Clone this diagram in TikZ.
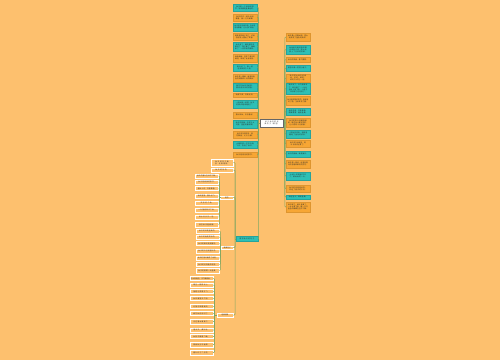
\documentclass[tikz,border=0pt]{standalone}
\usepackage{fontspec}
\newfontfamily\cjk{Noto Sans CJK SC}
\XeTeXlinebreaklocale "zh"
\XeTeXlinebreakskip = 0pt plus 0.5pt
\definecolor{bgc}{RGB}{253,192,110}
\definecolor{orgc}{RGB}{247,166,52}
\definecolor{teac}{RGB}{46,192,182}
\definecolor{edgec}{RGB}{128,168,98}
\definecolor{txtc}{RGB}{45,45,45}
\tikzset{
  base/.style={font=\cjk\fontsize{1.7}{2.1}\selectfont, text=txtc, inner xsep=0.7pt, inner ysep=0.4pt, align=center},
  colbox/.style={base, text width=21pt, minimum width=24pt, line width=0.3pt},
  tb/.style={colbox, fill=teac, draw=teac!85!black},
  ob/.style={colbox, fill=orgc, draw=orgc!90!black},
  wb/.style={base, text width=21pt, minimum width=23pt, fill=bgc, draw=white, line width=0.35pt},
  lab/.style={base, fill=bgc, draw=white, line width=0.35pt, minimum height=3.5pt},
  rootbox/.style={base, text width=22pt, minimum width=23.5pt, minimum height=8pt, fill=white, draw=black!60, line width=0.3pt},
  edge/.style={draw=edgec, line width=0.5pt, rounded corners=0.8pt}
}
\begin{document}
\begin{tikzpicture}[x=1pt,y=-1pt]
\fill[bgc] (0,0) rectangle (500,360);
\useasboundingbox (0,0) rectangle (500,360);

\node[rootbox] (root) at (271.8,123) {关于秋天的优美句子（精选）};

% left column
\foreach \n/\y/\h/\s/\t in {
 L1/7.5/7/tb/{秋天是一个收获的季节，到处都是金黄色的。},
 L2/17.5/7/ob/{秋风吹过，树叶纷纷飘落，像一只只蝴蝶。},
 L3/27/8/tb/{秋天的天空格外蓝，白云悠悠地飘着，让人心旷神怡。},
 L4/36.5/7/ob/{田野里的稻子熟了，农民伯伯脸上露出了笑容。},
 L5/46.5/9/tb/{秋天来了，果园里的苹果红了，梨子黄了，葡萄紫了，一派丰收的景象。},
 L6/58/8/ob/{秋雨绵绵，洗去了夏日的燥热，带来了丝丝凉意。},
 L7/67.5/7/tb/{枫叶红了，像一团团燃烧的火焰。},
 L8/78/8/ob/{秋天是一幅画，画里有金色的田野和火红的枫林。},
 L9/87/8/tb/{菊花在秋风中绽放，散发出淡淡的清香。},
 L10/95/4.5/ob/{秋高气爽，天高云淡。},
 L11/104/8/tb/{一场秋雨一场寒，秋天的脚步越来越近了。},
 L12/115/6/ob/{落叶知秋，岁月静好。},
 L13/124/8/tb/{秋天的夜晚，月亮又大又圆，星星眨着眼睛。},
 L14/134.5/7/ob/{秋天的校园里，桂花飘香，沁人心脾。},
 L15/144.5/7/tb/{大雁排成一字形向南飞去，告别了秋天。},
 L16/154.5/5/ob/{秋天是思念的季节。}}
 { \node[\s, minimum height=\h pt] (\n) at (245,\y) {\t}; }
\node[tb, minimum width=21pt, minimum height=5pt] (T) at (247,239) {描写秋天的句子};

% right column
\foreach \n/\y/\h/\s/\t in {
 R1/37/8/ob/{秋天像一位魔术师，把大地变成了金色的海洋。},
 R2/49.5/9/tb/{秋姑娘迈着轻盈的脚步来到人间，给大地披上了五彩的衣裳。},
 R3/59.5/5/ob/{秋天的早晨，雾气蒙蒙。},
 R4/68/6/tb/{银杏叶像一把把小扇子。},
 R5/78/8/ob/{秋天的山林五彩缤纷，红的、黄的、绿的交织在一起。},
 R6/88.5/11/tb/{秋天到了，天气渐渐凉了，树叶黄了，一片片从树上落下来，小燕子飞到南方过冬去了。},
 R7/100.5/9/ob/{秋天是成熟的季节，高粱涨红了脸，玉米笑弯了腰。},
 R8/111.5/7/tb/{秋风送爽，丹桂飘香。硕果累累，遍地金黄。},
 R9/122.5/9/ob/{秋天的阳光温暖而柔和，照在身上暖洋洋的，让人感到十分舒服。},
 R10/134/8/tb/{一阵秋风吹来，稻田里翻起了金色的波浪。},
 R11/143.5/7/ob/{秋天的池塘里，荷叶渐渐枯萎了。},
 R12/154/6/tb/{秋天的傍晚，晚霞满天。},
 R13/164/8/ob/{秋天是一首诗，诗里有落叶的低语和果实的芬芳。},
 R14/176/8/tb/{山坡上的野菊花开了，黄灿灿的一片。},
 R15/188.5/7/ob/{秋天的风轻轻地吹，吹走了夏天的炎热。},
 R16/197/4.5/tb/{秋色宜人，满目金黄。},
 R17/207/10/ob/{秋天来了，树叶变黄了，一片片落下来，像一只只金色的蝴蝶在空中飞舞。}}
 { \node[\s, minimum height=\h pt] (\n) at (298,\y) {\t}; }

% teal subtree
\node[wb, minimum width=22pt, minimum height=7pt] (S1) at (222,162.5) {秋天的句子摘抄，优美语段。};
\node[wb, minimum width=22pt, minimum height=4pt] (S2) at (222,170) {秋天的好句。};
\node[lab, minimum width=12.5pt] (G1) at (226.8,197.5) {短句};
\node[lab, minimum width=11.5pt] (G2) at (227.3,247.5) {唯美句子};
\node[lab, minimum width=16pt] (G3) at (225,315) {经典语录};

\foreach \n/\y/\h/\t in {
 A1/176/4/{秋天的落叶在风中飞舞。},
 A2/182/4/{秋天是收获的季节。},
 A3/188.5/4/{金秋十月，丹桂飘香。},
 A4/196/4/{秋风瑟瑟，落叶纷飞。},
 A5/203/4.5/{天凉好个秋。},
 A6/210/4/{一叶落而知天下秋。},
 A7/217/4/{秋水共长天一色。},
 A8/224.5/5/{我言秋日胜春朝。}}
 { \node[wb, minimum height=\h pt] (\n) at (207,\y) {\t}; }

\foreach \n/\y/\h/\t in {
 B1/231/4/{秋天的风是温柔的。},
 B2/237/4/{秋天的雨是清凉的。},
 B3/243.5/4/{秋天的果实是甜蜜的。},
 B4/251/4/{秋天的天空湛蓝如洗。},
 B5/258/4/{秋天的落叶铺成了地毯。},
 B6/264.5/4/{秋天的月亮格外明亮。},
 B7/270.5/5/{秋天的田野一片金黄。}}
 { \node[wb, minimum height=\h pt] (\n) at (207.7,\y) {\t}; }

\foreach \n/\y/\h/\t in {
 C1/278.5/4/{空山新雨后，天气晚来秋。},
 C2/285/4/{晴空一鹤排云上。},
 C3/291.5/4/{落霞与孤鹜齐飞。},
 C4/298.5/4/{秋风萧瑟天气凉。},
 C5/306.5/4/{月落乌啼霜满天。},
 C6/313.5/4/{春花秋月何时了。},
 C7/321.5/5/{无边落木萧萧下。},
 C8/330/4/{碧云天，黄叶地。},
 C9/336.5/4/{秋阴不散霜飞晚。},
 C10/344.5/5/{银烛秋光冷画屏。},
 C11/352.5/5/{霜叶红于二月花。}}
 { \node[wb, minimum height=\h pt] (\n) at (201.3,\y) {\t}; }

% connectors
\coordinate (lv) at (258.7,123);
\coordinate (rv) at (284.9,123);
\coordinate (tv) at (235,239);
\coordinate (g1v) at (219.5,197.5);
\coordinate (g2v) at (220.4,247.5);
\coordinate (g3v) at (214.6,315);
\draw[edge] (root.west) -- (lv);
\draw[edge] (root.east) -- (rv);
\foreach \n in {L1,L2,L3,L4,L5,L6,L7,L8,L9,L10,L11,L12,L13,L14,L15,L16,T}
  \draw[edge] (lv) |- (\n.east);
\foreach \n in {R1,R2,R3,R4,R5,R6,R7,R8,R9,R10,R11,R12,R13,R14,R15,R16,R17}
  \draw[edge] (rv) |- (\n.west);
\draw[edge] (T.west) -- (tv);
\foreach \n in {S1,S2,G1,G2,G3}
  \draw[edge] (tv) |- (\n.east);
\draw[edge] (G1.west) -- (g1v);
\foreach \n in {A1,A2,A3,A4,A5,A6,A7,A8}
  \draw[edge] (g1v) |- (\n.east);
\draw[edge] (G2.west) -- (g2v);
\foreach \n in {B1,B2,B3,B4,B5,B6,B7}
  \draw[edge] (g2v) |- (\n.east);
\draw[edge] (G3.west) -- (g3v);
\foreach \n in {C1,C2,C3,C4,C5,C6,C7,C8,C9,C10,C11}
  \draw[edge] (g3v) |- (\n.east);
\end{tikzpicture}
\end{document}
